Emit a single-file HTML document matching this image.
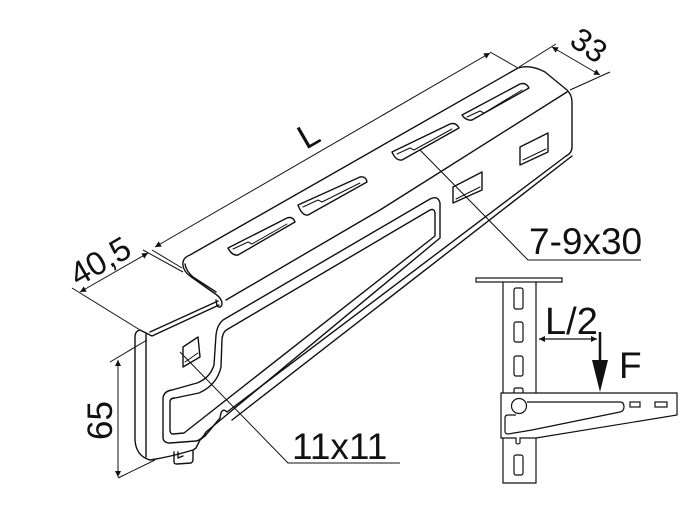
<!DOCTYPE html>
<html><head><meta charset="utf-8"><style>
html,body{margin:0;padding:0;background:#fff;width:694px;height:525px;overflow:hidden}
svg{display:block}
text{font-family:"Liberation Sans",Arial,sans-serif;fill:#111}
</style></head><body>
<svg width="694" height="525" viewBox="0 0 694 525" xmlns="http://www.w3.org/2000/svg">
<defs>
<marker id="a" viewBox="0 0 10 10" refX="10" refY="5" markerWidth="9" markerHeight="6" orient="auto-start-reverse" markerUnits="userSpaceOnUse"><path d="M0,0 L10,5 L0,10 z" fill="#111"/></marker>
</defs>
<g fill="none" stroke="#111" stroke-width="1.4" stroke-linejoin="round" stroke-linecap="round">
<path d="M183,262 Q184,257 190,255 L518,68 Q530,64 545,72 L567,90 Q572,95 572,102 L572,147 Q572,153 566,156"/>
<path d="M567,92 L380,210 L226,300"/>
<path d="M183,262 Q182,270 190,276 L214,293 Q222,298 222,304 Q221,309 217,306 L216,300"/>
<path d="M185,264 Q186,271 193,277 L216,292"/>
<path d="M219,305 L152,336 Q146,333 140,330 Q135,331 135,337 L135,440 Q136,456 150,460"/>
<path d="M218,301 L150,332"/>
<path d="M146,334 L146,457"/>
<path d="M566,156 L227,412"/>
<path d="M572,156 L232,420"/>
<path d="M227,412 Q223,408 221,413 L220,418 L205,436 L200,440 L196,448 L193,450 Q170,457 150,460"/>
<path d="M174,452 L174,462 Q174,464 177,464 L191,463 Q193,462 193,459 L193,451"/>
<path d="M178,452 L178,458 L183,456"/>
<path d="M223,320 L430,199 Q438,195 440,203 L440,238 L206,432 Q202,440 196,441 L170,443 Q163,443 163,437 L163,398 Q164,391 172,390 L197,383 Q210,378 214,365 L216,335 Q217,325 223,320 Z"/>
<path d="M228,329 L430,210 Q435,208 435,214 L435,236 L184,433 L173,434 Q170,434 170,430 L170,402 Q170,398 175,398 L199,393 Q217,385 221,367 L222,339 Q223,331 228,329 Z"/>
<path d="M228,248 L287,218 Q293,216 295,222 L238,255 Q232,256 228,248 Z"/>
<path d="M233,249 L248,242 L252,244 L287,224" stroke-width="1"/>
<path d="M298,205 L360,177 Q366,176 367,182 L308,215 Q302,216 298,205 Z"/>
<path d="M303,207 L318,200 L322,202 L360,183" stroke-width="1"/>
<path d="M392,152 L450,124 Q456,122 459,128 L402,160 Q396,161 392,152 Z"/>
<path d="M397,154 L410,148 L414,150 L452,129" stroke-width="1"/>
<path d="M462,115 L520,84 Q526,82 529,88 L472,120 Q466,121 462,115 Z"/>
<path d="M467,117 L480,111 L484,113 L522,90" stroke-width="1"/>
<path d="M520,147 L548,133 L548,152 L520,165 Z"/>
<path d="M523,160 L546,149" stroke-width="1"/>
<path d="M453,187 L482,172 L482,190 L453,203 Z"/>
<path d="M456,199 L480,187" stroke-width="1"/>
<path d="M183,347 L198,337 L200,357 L183,367 Z"/>
<path d="M185,362 L198,353" stroke-width="1"/>
</g>
<g fill="none" stroke="#111" stroke-width="1">
<path d="M420,150 L528,260 L641,260"/>
<path d="M180,352 L288,463 L400,463"/>
<line x1="155" y1="247" x2="490" y2="53" marker-start="url(#a)" marker-end="url(#a)"/>
<line x1="490" y1="52" x2="518" y2="68"/>
<line x1="143" y1="250" x2="183" y2="272"/>
<line x1="552" y1="47" x2="600" y2="75" marker-start="url(#a)" marker-end="url(#a)"/>
<line x1="519" y1="67" x2="556" y2="44"/>
<line x1="570" y1="90" x2="610" y2="72"/>
<line x1="80" y1="292" x2="148" y2="253" marker-start="url(#a)" marker-end="url(#a)"/>
<line x1="72" y1="288" x2="140" y2="330"/>
<line x1="152" y1="250" x2="182" y2="268"/>
<line x1="118" y1="360" x2="118" y2="477" marker-start="url(#a)" marker-end="url(#a)"/>
<line x1="110" y1="362" x2="147" y2="340"/>
<line x1="118" y1="478" x2="155" y2="460"/>
</g>
<g fill="none" stroke="#111" stroke-width="1.2">
<rect x="476" y="278" width="86" height="4"/>
<path d="M503,282 L503,393 M536,282 L536,393 M503,438 L503,483 L536,483 L536,438"/>
<rect x="514" y="288" width="9" height="21" rx="2"/>
<rect x="514" y="322" width="9" height="20" rx="2"/>
<rect x="514" y="356" width="9" height="20" rx="2"/>
<path d="M514,393 L514,390 Q514,388 516,388 L521,388 Q523,388 523,390 L523,393"/>
<rect x="514" y="455" width="9" height="20" rx="2"/>
<path d="M501,393 L677,393 L677,415 L536,438 L520,438 L520,443 Q518,445 516,443 L516,438 L501,438 Z"/>
<circle cx="519" cy="406" r="7.5"/>
<path d="M527,402 L620,402 Q624,402 624,407 Q624,411 620,412 L532,430 L508,434 Q505,434 505,431 L505,418 Q505,415 508,415 L516,415"/>
<rect x="630" y="402" width="10" height="5"/>
<rect x="655" y="402" width="12" height="5"/>
<line x1="539" y1="339" x2="597" y2="339" marker-start="url(#a)" marker-end="url(#a)"/>
<line x1="600" y1="332" x2="600" y2="365" stroke-width="2.5"/>
</g>
<path d="M592,360 L608,360 L600,392 Z" fill="#111"/>
<text x="0" y="0" font-size="34" transform="translate(306,150) rotate(-30)">L</text>
<text x="0" y="0" font-size="32" transform="translate(568,44) rotate(35)">33</text>
<text x="0" y="0" font-size="33" transform="translate(78,287) rotate(-30)">40,5</text>
<text x="0" y="0" font-size="35" transform="translate(112,440) rotate(-90)">65</text>
<text x="529" y="254" font-size="37">7-9x30</text>
<text x="292" y="459" font-size="37">11x11</text>
<text x="545" y="334" font-size="38">L/2</text>
<text x="619" y="378" font-size="37">F</text>
</svg>
</body></html>
